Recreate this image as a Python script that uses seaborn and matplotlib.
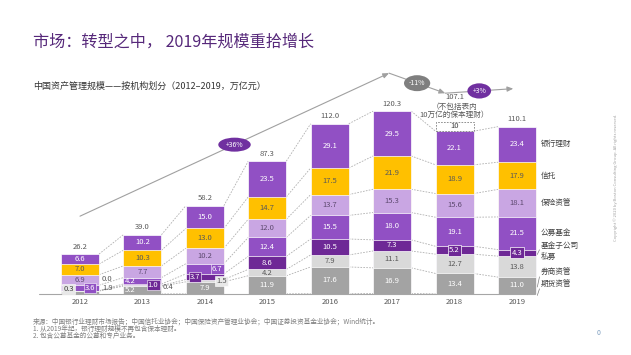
import numpy as np
import pandas as pd
import matplotlib.pyplot as plt
import seaborn as sns
from matplotlib.patches import Ellipse, Rectangle

sns.set_style('white')
plt.rcParams['font.family'] = ['Noto Sans CJK SC', 'DejaVu Sans']

# Data (万亿元), bottom to top of each stack
years = ['2012', '2013', '2014', '2015', '2016', '2017', '2018', '2019']
series = ['期货资管', '券商资管', '私募', '基金子公司', '公募基金', '保险资管', '信托', '银行理财']
futures = [0.0, 0.0, 0.1, 0.1, 0.2, 0.3, 0.1, 0.1]
broker = [1.9, 5.2, 7.9, 11.9, 17.6, 16.9, 13.4, 11.0]
private = [0.3, 0.4, 1.5, 4.2, 7.9, 11.1, 12.7, 13.8]
fund_sub = [0.0, 1.0, 3.7, 8.6, 10.5, 7.3, 5.2, 4.3]
mutual = [3.6, 4.2, 6.7, 12.4, 15.5, 18.0, 19.1, 21.5]
insurance = [6.9, 7.7, 10.2, 12.0, 13.7, 15.3, 15.6, 18.1]
trust = [7.0, 10.3, 13.0, 14.7, 17.5, 21.9, 18.9, 17.9]
bank = [6.6, 10.2, 15.0, 23.5, 29.1, 29.5, 22.1, 23.4]
totals = [26.2, 39.0, 58.2, 87.3, 112.0, 120.3, 107.1, 110.1]
excluded_2018 = 10  # 表内保本理财, not included
growth = ['+36%', '-11%', '+3%']

purple = '#9150c4'
dark_purple = '#6e2896'
colors = {'期货资管': '#7f7f7f', '券商资管': '#a3a3a3', '私募': '#d9d9d9',
          '基金子公司': dark_purple, '公募基金': purple, '保险资管': '#c9a6e3',
          '信托': '#ffc000', '银行理财': purple}
text_colors = {'期货资管': 'white', '券商资管': 'white', '私募': '#595959',
               '基金子公司': 'white', '公募基金': 'white', '保险资管': '#5e4a70',
               '信托': '#595959', '银行理财': 'white'}

df = pd.DataFrame({'year': years, '期货资管': futures, '券商资管': broker, '私募': private,
                   '基金子公司': fund_sub, '公募基金': mutual, '保险资管': insurance,
                   '信托': trust, '银行理财': bank})
cum = df[series].cumsum(axis=1)

fig = plt.figure(figsize=(6.31, 3.55), dpi=100)
ax = fig.add_axes([0, 0, 1, 1])
w = 0.61

# stacked bars: draw cumulative heights from the top series down
for s in reversed(series):
    sns.barplot(x=df['year'], y=cum[s], order=years, color=colors[s], saturation=1,
                width=w, edgecolor='white', linewidth=0.5, errorbar=None, ax=ax, zorder=2)

# dashed connectors between segment boundaries
for s in series:
    for i in range(len(years) - 1):
        ax.plot([i + w / 2, i + 1 - w / 2], [cum[s][i], cum[s][i + 1]],
                ls=(0, (2, 1.5)), color='#b0b0b0', lw=0.6, zorder=1)

# segment labels, with special placement for the thin ones
special = {
    ('私募', 0): (-0.18, 3.3, '#e8e8e8', '#404040'),
    ('公募基金', 0): (0.16, 3.9, purple, 'white'),
    ('券商资管', 0): (0.45, 3.9, None, '#595959'),
    ('基金子公司', 0): (0.43, 9.9, None, '#595959'),
    ('券商资管', 1): (0.8, 2.6, None, 'white'),
    ('公募基金', 1): (0.8, 8.7, None, 'white'),
    ('基金子公司', 1): (1.17, 5.9, dark_purple, 'white'),
    ('私募', 1): (1.41, 4.6, None, '#595959'),
    ('基金子公司', 2): (1.84, 11.3, dark_purple, 'white'),
    ('私募', 2): (2.27, 8.7, '#e8e8e8', '#595959'),
    ('公募基金', 2): (2.2, 16.6, purple, 'white'),
}
boxed = {('基金子公司', 6), ('基金子公司', 7)}
for s, vals in zip(series, [futures, broker, private, fund_sub, mutual, insurance, trust, bank]):
    if s == '期货资管':
        continue
    for i, v in enumerate(vals):
        mid = cum[s][i] - v / 2
        bbox = None
        if (s, i) in special:
            x, y, fc, tc = special[(s, i)]
            if fc is not None:
                bbox = dict(boxstyle='square,pad=0.15', fc=fc, ec='white', lw=0.4)
        else:
            x, y, tc = i, mid, text_colors[s]
            if (s, i) in boxed:
                bbox = dict(boxstyle='square,pad=0.2', fc=dark_purple, ec='white', lw=0.5)
        ax.text(x, y, f'{v:.1f}', ha='center', va='center', fontsize=5.5, color=tc,
                bbox=bbox, zorder=4)

# totals
for i, t in enumerate(totals):
    if years[i] == '2018':
        top = cum['银行理财'][i]
        ax.add_patch(Rectangle((i - w / 2, top), w, 6, fill=False, ls=(0, (2, 1.5)),
                               ec='#808080', lw=0.6, zorder=3))
        ax.text(i, top + 3.6, str(excluded_2018), ha='center', va='center', fontsize=5.5, color='#404040')
        ax.text(i, top + 13.5, '（不包括表内\n10万亿的保本理财）', ha='center', va='center',
                fontsize=5.5, color='#595959', linespacing=0.95)
        ax.text(i, top + 22.3, f'{t:.1f}', ha='center', va='center', fontsize=5.5, color='#595959')
    else:
        ax.text(i, t + 2.2, f'{t:.1f}', ha='center', va='bottom', fontsize=5.5, color='#595959')

# year labels and baseline
ax.axhline(0, xmin=0.062, xmax=0.848, color='#a6a6a6', lw=0.8, zorder=3)
for i, y in enumerate(years):
    ax.text(i, -5.5, y, ha='center', va='center', fontsize=5.5, color='#595959')

# series labels on the right
side_y = {'基金子公司': 31.6, '私募': 24.3, '券商资管': 13.8, '期货资管': 5.9}
last = len(years) - 1
for s, vals in zip(series, [futures, broker, private, fund_sub, mutual, insurance, trust, bank]):
    mid = cum[s][last] - vals[last] / 2
    y = side_y.get(s, mid)
    ax.text(7.38, y, s, ha='left', va='center', fontsize=5.5, color='#404040')
    if s in ('基金子公司', '券商资管', '期货资管'):
        ax.plot([last + w / 2 + 0.02, 7.36], [mid - 1, y - 2.5], color='#808080', lw=0.5)

# growth arrows
lift = 25
pts = [(0, totals[0] + lift), (4.95, totals[5] + lift), (5.85, totals[6] + lift), (6.94, totals[7] + lift)]
for k in range(3):
    ax.annotate('', xy=pts[k + 1], xytext=pts[k],
                arrowprops=dict(arrowstyle='-|>,head_length=0.35,head_width=0.15',
                                color='#a0a0a0', lw=0.8, shrinkA=0, shrinkB=0))
ell_style = [(0.52, 9.2, '#7030a0'), (0.42, 10.5, '#7f7f7f'), (0.38, 10.0, '#7030a0')]
for k, lab in enumerate(growth):
    cx = (pts[k][0] + pts[k + 1][0]) / 2
    cy = (pts[k][1] + pts[k + 1][1]) / 2
    ew, eh, ec = ell_style[k]
    ax.add_patch(Ellipse((cx, cy), ew, eh, fc=ec, ec='none', zorder=5))
    ax.text(cx, cy, lab, ha='center', va='center', fontsize=5, color='white', zorder=6)

ax.set_xlim(-80 / 62.43, 551 / 62.43)
ax.set_ylim(-61 / 1.52, 294 / 1.52)
ax.axis('off')

# titles and notes
fig.text(0.052, 0.882, '市场：转型之中， 2019年规模重拾增长', fontsize=11.6, color='#56287a', va='center')
fig.text(0.052, 0.758, '中国资产管理规模——按机构划分（2012–2019，万亿元）', fontsize=6.5, color='#333333', va='center')
notes = ['来源：中国银行业理财市场报告；中国信托业协会；中国保险资产管理业协会；中国证券投资基金业协会；Wind统计。',
         '1. 从2019年起，银行理财规模不再包含保本理财。',
         '2. 包含公募基金的公募和专户业务。']
for k, n in enumerate(notes):
    fig.text(0.052, 1 - (321.7 + 7 * k) / 355, n, fontsize=4.8, color='#7f7f7f', va='center')
fig.text(0.946, 0.062, '0', fontsize=5, color='#7f9fc0', va='center')
fig.text(0.976, 0.5, 'Copyright © 2020 by Boston Consulting Group. All rights reserved.',
         rotation=90, fontsize=3, color='#a0a0a0', va='center', ha='center')

fig.savefig('out.png', dpi=100)
